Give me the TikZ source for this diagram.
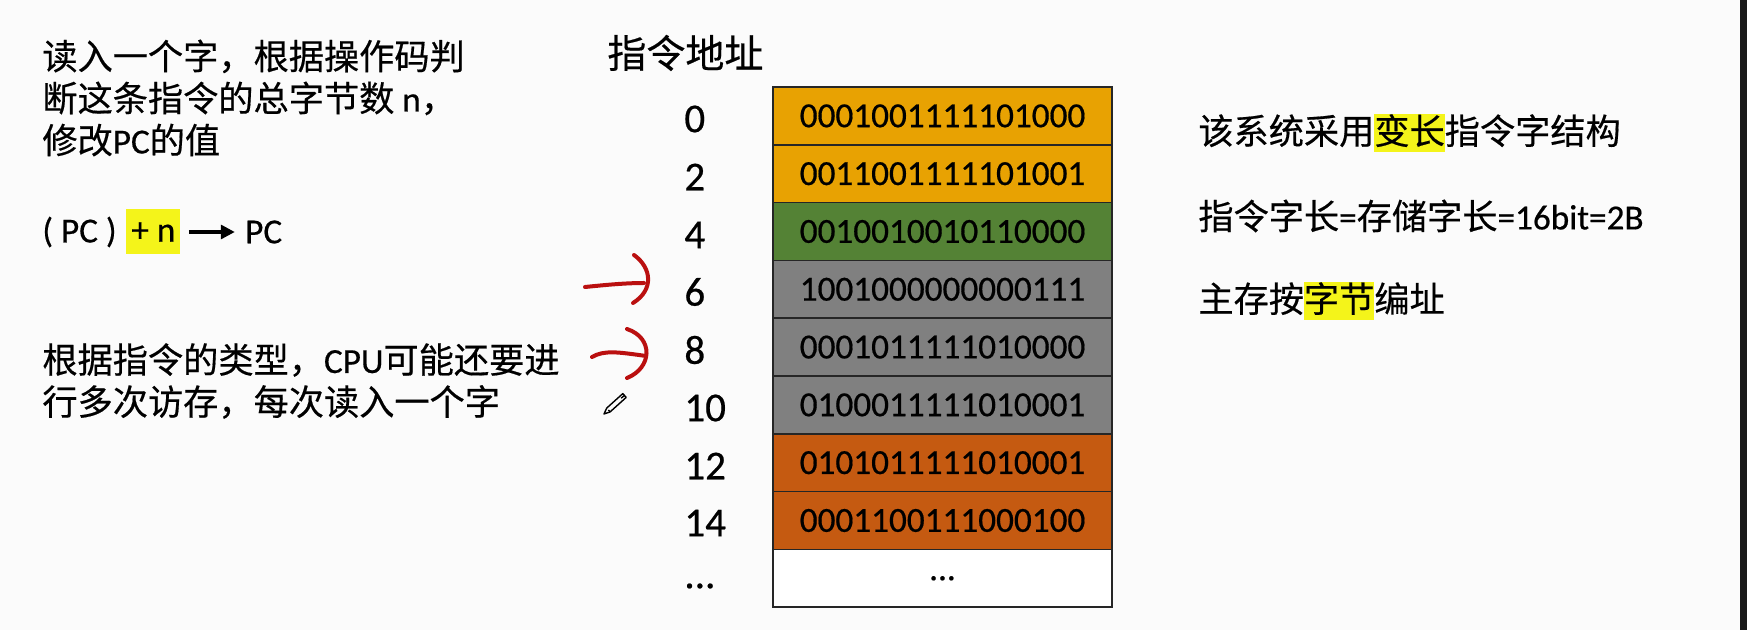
\documentclass[tikz,border=0pt]{standalone}
\usepackage{fontspec}
\setmainfont{Noto Sans CJK SC}[FakeBold=0.45]
\newfontfamily\lat{Carlito}[FakeBold=0.5]
\usepackage{tikz}
\usetikzlibrary{shapes,arrows,positioning,arrows.meta}
\definecolor{amber}{HTML}{E8A202}
\definecolor{leaf}{HTML}{548235}
\definecolor{stone}{HTML}{808080}
\definecolor{rust}{HTML}{C55A11}
\definecolor{hiyellow}{HTML}{F4F41A}
\definecolor{penred}{HTML}{BA1010}
\definecolor{paper}{HTML}{FBFBFB}
\newcommand{\hl}[1]{{\setlength{\fboxsep}{0pt}\colorbox{hiyellow}{\rule[-3.8pt]{0pt}{14.7pt}#1}}}
\tikzstyle{cell} = [rectangle, draw=black!85, line width=0.8pt, minimum width=169.5pt, minimum height=28.9pt, inner sep=0pt, font=\lat\fontsize{17.6}{21}\selectfont]
\tikzstyle{addr} = [anchor=west, inner sep=0pt, font=\lat\fontsize{20.5}{21}\selectfont]
\tikzstyle{txt} = [anchor=west, align=left, inner sep=0pt, font=\fontsize{17.6}{21}\selectfont]
\tikzstyle{formula} = [inner sep=0pt, font=\lat\fontsize{17.6}{21}\selectfont]
\tikzstyle{hilite} = [formula, fill=hiyellow, minimum height=22.5pt, inner xsep=2.5pt]
\tikzstyle{redline} = [draw=penred, line width=2pt, line cap=round]
\tikzstyle{line} = [draw]

\begin{document}
\begin{tikzpicture}[x=0.5pt, y=-0.5pt]
			\fill [paper] (0,0) rectangle (1740,630);
			\fill [black!90] (1740,0) rectangle (1747,630);
			\useasboundingbox (0,0) rectangle (1747,630);

			\node [txt] (fetch) at (42,98) {读入一个字，根据操作码判\\断这条指令的总字节数 {\lat n}，\\修改{\lat PC}的值};
			\node [formula, anchor=west] (pcold) at (42,232) {( PC )};
			\node [hilite, right=4.5pt of pcold] (plusn) {+ n};
			\node [formula, right=32pt of plusn] (pcnew) {PC};
			\path [line, line width=1.6pt, -{Triangle[length=7pt, width=7pt]}, shorten <=4pt, shorten >=5pt] (plusn) -- (pcnew);
			\node [txt] (access) at (42,381) {根据指令的类型，{\lat CPU}可能还要进\\行多次访存，每次读入一个字};

			\node [txt, font=\fontsize{19.5}{21}\selectfont] (title) at (607,53) {指令地址};

			\node [cell, fill=amber] (w0) at (942.5,115.9) {0001001111101000};
			\node [cell, fill=amber] (w2) at (942.5,173.7) {0011001111101001};
			\node [cell, fill=leaf] (w4) at (942.5,231.5) {0010010010110000};
			\node [cell, fill=stone] (w6) at (942.5,289.3) {1001000000000111};
			\node [cell, fill=stone] (w8) at (942.5,347.1) {0001011111010000};
			\node [cell, fill=stone] (w10) at (942.5,404.9) {0100011111010001};
			\node [cell, fill=rust] (w12) at (942.5,462.7) {0101011111010001};
			\node [cell, fill=rust] (w14) at (942.5,520.5) {0001100111000100};
			\node [cell, fill=white] (wmore) at (942.5,578.3) {...};

			\node [addr] (a0) at (684,119) {0};
			\node [addr] (a2) at (684,177) {2};
			\node [addr] (a4) at (684,235) {4};
			\node [addr] (a6) at (684,292) {6};
			\node [addr] (a8) at (684,350) {8};
			\node [addr] (a10) at (684,408) {10};
			\node [addr] (a12) at (684,466) {12};
			\node [addr] (a14) at (684,523) {14};
			\node [addr] (amore) at (684,586) {...};

			\node [txt] (varlen) at (1198,133) {该系统采用\hl{变长}指令字结构};
			\node [txt] (wordlen) at (1198,216) {指令字长{\lat =}存储字长{\lat =16bit=2B}};
			\node [txt] (byteaddr) at (1198,301) {主存按\hl{字节}编址};

			\coordinate (s6) at (585,287);
			\coordinate (e6) at (644,283);
			\coordinate (t6) at (634,255);
			\coordinate (b6) at (633,303);
			\coordinate (s8) at (592,357);
			\coordinate (e8) at (646,356);
			\coordinate (t8) at (627,329);
			\coordinate (b8) at (627,378);
			\path [redline] (s6) .. controls (605,285) and (625,283) .. (e6);
			\path [redline] (t6) .. controls (652,268) and (654,290) .. (b6);
			\path [redline] (s8) .. controls (604,350) and (618,352) .. (e8);
			\path [redline] (t8) .. controls (654,338) and (652,368) .. (b8);

			\draw [line width=0.7pt, line join=round] (604,414) -- (610.1,411.9) -- (626.2,397.4) -- (622.8,393.6) -- (606.7,408.1) -- cycle;
			\draw [line width=0.7pt] (608.4,410) -- (610.1,411.9);
			\draw [line width=0.7pt] (621.1,398.2) -- (624.5,395.5);
		\end{tikzpicture}
\end{document}
